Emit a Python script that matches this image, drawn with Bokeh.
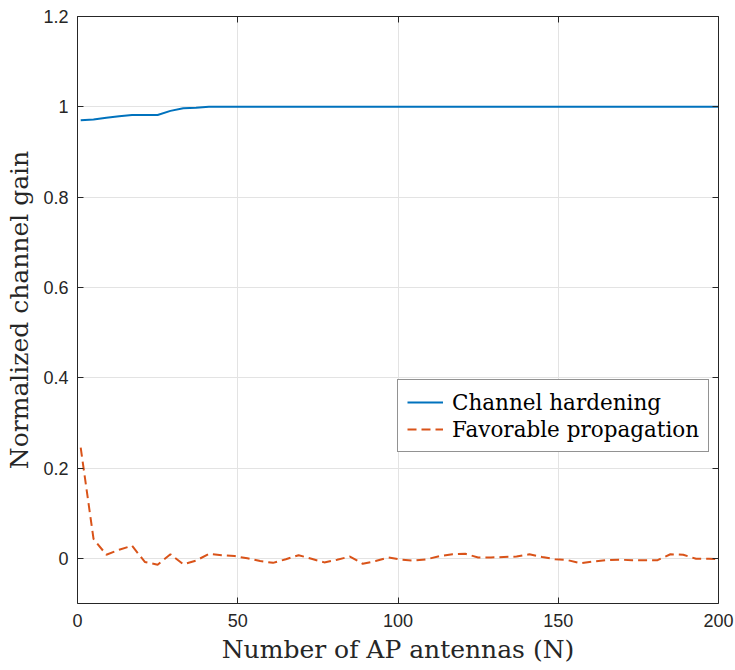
from bokeh.plotting import figure
from bokeh.models import (LinearAxis, FixedTicker, CustomJSTickFormatter, Range1d,
                          Legend, LegendItem)
from bokeh.embed import file_html
from bokeh.resources import INLINE

# ---- data ----
N = [1, 5, 9, 13, 17, 21, 25, 29, 33, 37, 41, 45, 49, 53, 57, 61, 65, 69, 73, 77,
     81, 85, 89, 93, 97, 101, 105, 109, 113, 117, 121, 125, 129, 133, 137, 141, 145,
     149, 153, 157, 161, 165, 169, 173, 177, 181, 185, 189, 193, 197, 200]
hardening = [0.970, 0.972, 0.976, 0.979, 0.982, 0.982, 0.982, 0.991, 0.997, 0.998,
             1.0, 1.0, 1.0, 1.0, 1.0, 1.0, 1.0, 1.0, 1.0, 1.0,
             1.0, 1.0, 1.0, 1.0, 1.0, 1.0, 1.0, 1.0, 1.0, 1.0,
             1.0, 1.0, 1.0, 1.0, 1.0, 1.0, 1.0, 1.0, 1.0, 1.0,
             1.0, 1.0, 1.0, 1.0, 1.0, 1.0, 1.0, 1.0, 1.0, 1.0, 1.0]
favorable = [0.245, 0.043, 0.008, 0.019, 0.028, -0.008, -0.014, 0.009, -0.013, -0.005,
             0.010, 0.007, 0.005, 0.000, -0.006, -0.010, -0.002, 0.007, -0.001, -0.009,
             -0.003, 0.004, -0.012, -0.006, 0.002, -0.003, -0.005, -0.002, 0.005, 0.009,
             0.010, 0.002, 0.002, 0.003, 0.004, 0.009, 0.003, -0.002, -0.004, -0.011,
             -0.007, -0.004, -0.003, -0.004, -0.004, -0.004, 0.009, 0.008, -0.001, -0.001,
             -0.0015]
x_ticks = [0, 50, 100, 150, 200]
y_ticks = [0, 0.2, 0.4, 0.6, 0.8, 1, 1.2]
labels = ["Channel hardening", "Favorable propagation"]

AX = "#262626"
SERIF = "DejaVu Serif"
SANS = "Liberation Sans"

p = figure(frame_width=641, frame_height=587, output_backend="svg", toolbar_location=None,
           x_range=Range1d(0, 200), y_range=Range1d(-0.1, 1.2),
           min_border_left=77, min_border_right=17, min_border_top=16, min_border_bottom=67)
p.outline_line_color = None
p.background_fill_color = "white"
p.border_fill_color = "white"

r1 = p.line(N, hardening, line_color="#0072BD", line_width=2)
r2 = p.line(N, favorable, line_color="#D95319", line_width=2, line_dash="9 5")

fmt = CustomJSTickFormatter(code="return (Math.round(tick*10)/10).toString();")
blank = CustomJSTickFormatter(code="return '';")

def style(ax, show_labels):
    ax.axis_line_color = AX
    ax.axis_line_width = 1
    ax.major_tick_line_color = AX
    ax.major_tick_in = 6
    ax.major_tick_out = 0
    ax.minor_tick_line_color = None
    ax.major_label_text_color = AX
    ax.major_label_text_font = SANS
    ax.major_label_text_font_size = "18px"
    if not show_labels:
        ax.formatter = blank
        ax.major_label_standoff = 0

xa = p.xaxis[0]
ya = p.yaxis[0]
xa.ticker = FixedTicker(ticks=x_ticks)
ya.ticker = FixedTicker(ticks=y_ticks)
ya.formatter = fmt
style(xa, True)
style(ya, True)
xa.major_label_standoff = 10
ya.major_label_standoff = 9
xa.axis_label = "Number of AP antennas (N)"
ya.axis_label = "Normalized channel gain"
for a in (xa, ya):
    a.axis_label_text_font = SERIF
    a.axis_label_text_font_style = "normal"
    a.axis_label_text_font_size = "25px"
    a.axis_label_text_color = AX
xa.axis_label_standoff = 5
ya.axis_label_standoff = 6

ra = LinearAxis(ticker=FixedTicker(ticks=y_ticks))
ta = LinearAxis(ticker=FixedTicker(ticks=x_ticks))
style(ra, False)
style(ta, False)
p.add_layout(ra, "right")
p.add_layout(ta, "above")

p.xgrid.ticker = FixedTicker(ticks=x_ticks)
p.ygrid.ticker = FixedTicker(ticks=y_ticks)
for g in (p.xgrid[0], p.ygrid[0]):
    g.grid_line_color = "#e3e3e3"
    g.grid_line_width = 1

legend = Legend(items=[LegendItem(label=labels[0], renderers=[r1]),
                       LegendItem(label=labels[1], renderers=[r2])],
                location=(320, 151))
legend.label_text_font = SERIF
legend.label_text_font_size = "21.5px"
legend.label_text_color = "black"
legend.border_line_color = AX
legend.border_line_width = 1
legend.background_fill_color = "white"
legend.background_fill_alpha = 1
legend.glyph_width = 36
legend.glyph_height = 20
legend.label_height = 26
legend.label_standoff = 9
legend.padding = 9
legend.spacing = 1
legend.margin = 0
p.add_layout(legend, "center")

open("out.html", "w").write(file_html(p, INLINE))
